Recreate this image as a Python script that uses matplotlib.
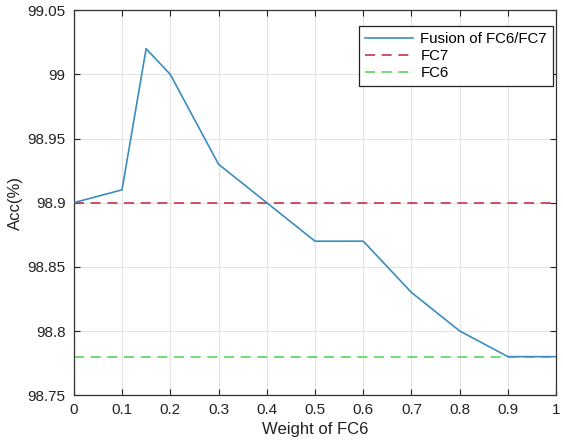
import matplotlib
matplotlib.use('Agg')
import matplotlib.pyplot as plt

plt.rcParams['font.family'] = ['Liberation Sans', 'DejaVu Sans']

# data
weights = [0, 0.1, 0.15, 0.2, 0.3, 0.4, 0.5, 0.6, 0.7, 0.8, 0.9, 1.0]
fusion = [98.90, 98.91, 99.02, 99.00, 98.93, 98.90, 98.87, 98.87, 98.83, 98.80, 98.78, 98.78]
fc7_acc = 98.90
fc6_acc = 98.78
xticks = [0, 0.1, 0.2, 0.3, 0.4, 0.5, 0.6, 0.7, 0.8, 0.9, 1]
yticks = [98.75, 98.8, 98.85, 98.9, 98.95, 99, 99.05]

fig = plt.figure(figsize=(5.63, 4.44), dpi=100)
ax = fig.add_axes([0.131, 0.110, 0.857, 0.867])

ax.plot(weights, fusion, color='#3A8DBE', lw=1.2, label='Fusion of FC6/FC7', zorder=3)
ax.plot([0, 1], [fc7_acc, fc7_acc], color='#C8324C', lw=1.2, ls=(0, (6, 4)), label='FC7', zorder=2)
ax.plot([0, 1], [fc6_acc, fc6_acc], color='#5AD65A', lw=1.2, ls=(0, (6, 4)), label='FC6', zorder=2)

ax.set_xlim(0, 1)
ax.set_ylim(98.75, 99.05)
ax.set_xticks(xticks)
ax.set_xticklabels(['0', '0.1', '0.2', '0.3', '0.4', '0.5', '0.6', '0.7', '0.8', '0.9', '1'])
ax.set_yticks(yticks)
ax.set_yticklabels(['98.75', '98.8', '98.85', '98.9', '98.95', '99', '99.05'])
ax.tick_params(direction='in', top=True, right=True, length=4, width=0.8,
               labelsize=11, colors='#222222', pad=6)
ax.grid(True, color='#E3E3E3', lw=0.8)
for s in ax.spines.values():
    s.set_color('#333333')
    s.set_linewidth(0.9)

ax.set_xlabel('Weight of FC6', fontsize=12, color='#222222', labelpad=3)
ax.set_ylabel('Acc(%)', fontsize=12, color='#222222', labelpad=3)

leg = ax.legend(loc='upper right', bbox_to_anchor=(553 / 563, 1 - 26 / 444),
                bbox_transform=fig.transFigure, borderaxespad=0,
                fontsize=10.8, frameon=True, fancybox=False,
                edgecolor='#222222', framealpha=1, handlelength=3.2,
                labelspacing=0.2, handletextpad=0.5)
leg.get_frame().set_linewidth(0.9)

fig.savefig('out.png', dpi=100)
